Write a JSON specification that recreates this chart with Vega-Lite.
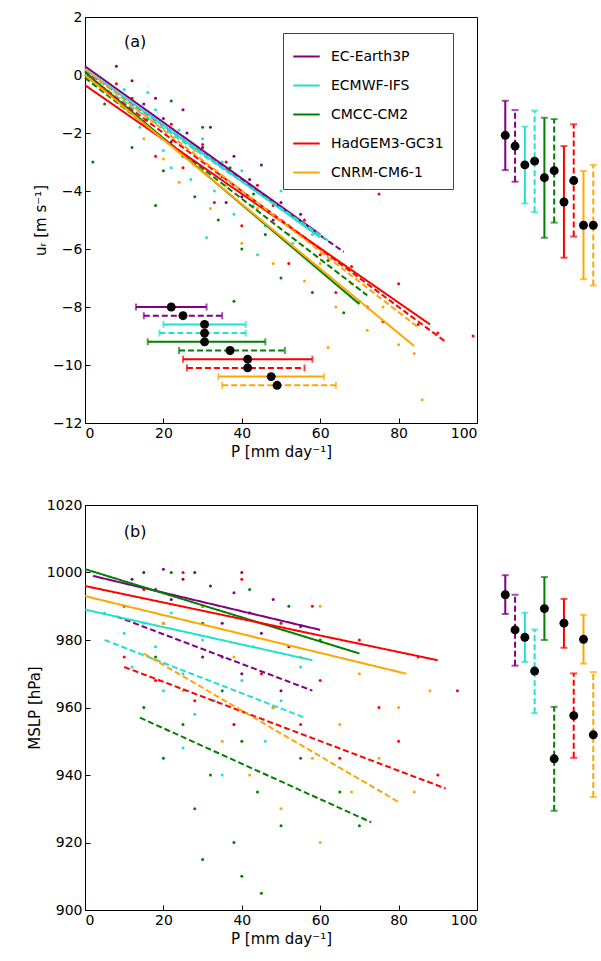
{
  "$schema": "https://vega.github.io/schema/vega-lite/v6.json",
  "padding": {"left": 26, "top": 9, "right": 0, "bottom": 0},
  "spacing": 37,
  "datasets": {
    "pa": [
      {"m":"EC-Earth3P","x":12,"y":-0.2},{"m":"EC-Earth3P","x":15,"y":-1},{"m":"EC-Earth3P","x":18,"y":-0.8},{"m":"EC-Earth3P","x":20,"y":-1.5},{"m":"EC-Earth3P","x":22,"y":-2.3},{"m":"EC-Earth3P","x":25,"y":-1.2},{"m":"EC-Earth3P","x":28,"y":-3},{"m":"EC-Earth3P","x":30,"y":-2.5},{"m":"EC-Earth3P","x":32,"y":-1.8},{"m":"EC-Earth3P","x":35,"y":-3.5},{"m":"EC-Earth3P","x":38,"y":-2.8},{"m":"EC-Earth3P","x":40,"y":-4.2},{"m":"EC-Earth3P","x":42,"y":-3.6},{"m":"EC-Earth3P","x":45,"y":-3.1},{"m":"EC-Earth3P","x":48,"y":-5},{"m":"EC-Earth3P","x":50,"y":-4.4},{"m":"EC-Earth3P","x":55,"y":-4.8},{"m":"EC-Earth3P","x":8,"y":0.3},{"m":"EC-Earth3P","x":26,"y":-2},{"m":"EC-Earth3P","x":36,"y":-4.4},
      {"m":"ECMWF-IFS","x":10,"y":-0.5},{"m":"ECMWF-IFS","x":14,"y":-1.8},{"m":"ECMWF-IFS","x":18,"y":-1.2},{"m":"ECMWF-IFS","x":20,"y":-2.6},{"m":"ECMWF-IFS","x":24,"y":-1.9},{"m":"ECMWF-IFS","x":27,"y":-3.6},{"m":"ECMWF-IFS","x":30,"y":-2.2},{"m":"ECMWF-IFS","x":33,"y":-4},{"m":"ECMWF-IFS","x":35,"y":-3},{"m":"ECMWF-IFS","x":38,"y":-4.8},{"m":"ECMWF-IFS","x":40,"y":-3.3},{"m":"ECMWF-IFS","x":43,"y":-4.5},{"m":"ECMWF-IFS","x":46,"y":-5.2},{"m":"ECMWF-IFS","x":50,"y":-4},{"m":"ECMWF-IFS","x":53,"y":-5.8},{"m":"ECMWF-IFS","x":58,"y":-5.5},{"m":"ECMWF-IFS","x":22,"y":-3.2},{"m":"ECMWF-IFS","x":31,"y":-5.6},{"m":"ECMWF-IFS","x":44,"y":-6.2},{"m":"ECMWF-IFS","x":16,"y":-0.6},
      {"m":"CMCC-CM2","x":5,"y":-1},{"m":"CMCC-CM2","x":10,"y":-0.8},{"m":"CMCC-CM2","x":12,"y":-2.5},{"m":"CMCC-CM2","x":16,"y":-1.5},{"m":"CMCC-CM2","x":20,"y":-3.3},{"m":"CMCC-CM2","x":22,"y":-0.9},{"m":"CMCC-CM2","x":25,"y":-2.8},{"m":"CMCC-CM2","x":28,"y":-4.2},{"m":"CMCC-CM2","x":30,"y":-1.8},{"m":"CMCC-CM2","x":34,"y":-5},{"m":"CMCC-CM2","x":37,"y":-3.2},{"m":"CMCC-CM2","x":40,"y":-6},{"m":"CMCC-CM2","x":43,"y":-4.1},{"m":"CMCC-CM2","x":46,"y":-5.5},{"m":"CMCC-CM2","x":50,"y":-7},{"m":"CMCC-CM2","x":54,"y":-5},{"m":"CMCC-CM2","x":58,"y":-7.5},{"m":"CMCC-CM2","x":62,"y":-6.4},{"m":"CMCC-CM2","x":66,"y":-8.2},{"m":"CMCC-CM2","x":70,"y":-7.8},{"m":"CMCC-CM2","x":18,"y":-4.5},{"m":"CMCC-CM2","x":38,"y":-7.8},{"m":"CMCC-CM2","x":2,"y":-3},
      {"m":"HadGEM3-GC31","x":8,"y":-0.3},{"m":"HadGEM3-GC31","x":12,"y":-0.8},{"m":"HadGEM3-GC31","x":15,"y":-1.6},{"m":"HadGEM3-GC31","x":18,"y":-2.8},{"m":"HadGEM3-GC31","x":22,"y":-1.7},{"m":"HadGEM3-GC31","x":25,"y":-3.2},{"m":"HadGEM3-GC31","x":30,"y":-2.4},{"m":"HadGEM3-GC31","x":33,"y":-4.4},{"m":"HadGEM3-GC31","x":36,"y":-3},{"m":"HadGEM3-GC31","x":40,"y":-5.2},{"m":"HadGEM3-GC31","x":44,"y":-3.8},{"m":"HadGEM3-GC31","x":48,"y":-4.5},{"m":"HadGEM3-GC31","x":52,"y":-6.5},{"m":"HadGEM3-GC31","x":56,"y":-5},{"m":"HadGEM3-GC31","x":60,"y":-6.2},{"m":"HadGEM3-GC31","x":64,"y":-7.5},{"m":"HadGEM3-GC31","x":68,"y":-6.6},{"m":"HadGEM3-GC31","x":72,"y":-8},{"m":"HadGEM3-GC31","x":76,"y":-8.5},{"m":"HadGEM3-GC31","x":80,"y":-7.2},{"m":"HadGEM3-GC31","x":85,"y":-8.6},{"m":"HadGEM3-GC31","x":90,"y":-8.9},{"m":"HadGEM3-GC31","x":99,"y":-9},{"m":"HadGEM3-GC31","x":75,"y":-4.1},
      {"m":"CNRM-CM6-1","x":15,"y":-2.2},{"m":"CNRM-CM6-1","x":20,"y":-2.9},{"m":"CNRM-CM6-1","x":24,"y":-3.7},{"m":"CNRM-CM6-1","x":28,"y":-2.6},{"m":"CNRM-CM6-1","x":32,"y":-4.6},{"m":"CNRM-CM6-1","x":36,"y":-3.8},{"m":"CNRM-CM6-1","x":40,"y":-5.8},{"m":"CNRM-CM6-1","x":44,"y":-4.6},{"m":"CNRM-CM6-1","x":48,"y":-6.5},{"m":"CNRM-CM6-1","x":52,"y":-5.5},{"m":"CNRM-CM6-1","x":56,"y":-7.1},{"m":"CNRM-CM6-1","x":60,"y":-6.5},{"m":"CNRM-CM6-1","x":64,"y":-8},{"m":"CNRM-CM6-1","x":68,"y":-7.2},{"m":"CNRM-CM6-1","x":72,"y":-8.8},{"m":"CNRM-CM6-1","x":76,"y":-8},{"m":"CNRM-CM6-1","x":80,"y":-9.3},{"m":"CNRM-CM6-1","x":84,"y":-9.6},{"m":"CNRM-CM6-1","x":86,"y":-11.2},{"m":"CNRM-CM6-1","x":62,"y":-9.4}
    ],
    "pb": [
      {"m":"EC-Earth3P","x":12,"y":998},{"m":"EC-Earth3P","x":15,"y":1000},{"m":"EC-Earth3P","x":18,"y":995},{"m":"EC-Earth3P","x":20,"y":1001},{"m":"EC-Earth3P","x":22,"y":992},{"m":"EC-Earth3P","x":25,"y":998},{"m":"EC-Earth3P","x":28,"y":1000},{"m":"EC-Earth3P","x":30,"y":990},{"m":"EC-Earth3P","x":32,"y":996},{"m":"EC-Earth3P","x":35,"y":985},{"m":"EC-Earth3P","x":38,"y":994},{"m":"EC-Earth3P","x":40,"y":1000},{"m":"EC-Earth3P","x":42,"y":988},{"m":"EC-Earth3P","x":45,"y":982},{"m":"EC-Earth3P","x":48,"y":992},{"m":"EC-Earth3P","x":52,"y":978},{"m":"EC-Earth3P","x":55,"y":984},{"m":"EC-Earth3P","x":30,"y":975},{"m":"EC-Earth3P","x":40,"y":970},{"m":"EC-Earth3P","x":50,"y":965},
      {"m":"ECMWF-IFS","x":5,"y":988},{"m":"ECMWF-IFS","x":10,"y":982},{"m":"ECMWF-IFS","x":12,"y":972},{"m":"ECMWF-IFS","x":15,"y":985},{"m":"ECMWF-IFS","x":18,"y":978},{"m":"ECMWF-IFS","x":20,"y":965},{"m":"ECMWF-IFS","x":22,"y":988},{"m":"ECMWF-IFS","x":25,"y":970},{"m":"ECMWF-IFS","x":28,"y":958},{"m":"ECMWF-IFS","x":30,"y":980},{"m":"ECMWF-IFS","x":33,"y":962},{"m":"ECMWF-IFS","x":35,"y":975},{"m":"ECMWF-IFS","x":38,"y":955},{"m":"ECMWF-IFS","x":40,"y":968},{"m":"ECMWF-IFS","x":43,"y":978},{"m":"ECMWF-IFS","x":46,"y":950},{"m":"ECMWF-IFS","x":50,"y":962},{"m":"ECMWF-IFS","x":55,"y":972},{"m":"ECMWF-IFS","x":25,"y":948},{"m":"ECMWF-IFS","x":35,"y":940},
      {"m":"CMCC-CM2","x":10,"y":990},{"m":"CMCC-CM2","x":15,"y":960},{"m":"CMCC-CM2","x":18,"y":975},{"m":"CMCC-CM2","x":20,"y":945},{"m":"CMCC-CM2","x":22,"y":1000},{"m":"CMCC-CM2","x":25,"y":955},{"m":"CMCC-CM2","x":28,"y":930},{"m":"CMCC-CM2","x":30,"y":985},{"m":"CMCC-CM2","x":32,"y":940},{"m":"CMCC-CM2","x":35,"y":965},{"m":"CMCC-CM2","x":38,"y":920},{"m":"CMCC-CM2","x":40,"y":950},{"m":"CMCC-CM2","x":42,"y":995},{"m":"CMCC-CM2","x":44,"y":935},{"m":"CMCC-CM2","x":45,"y":905},{"m":"CMCC-CM2","x":48,"y":960},{"m":"CMCC-CM2","x":50,"y":925},{"m":"CMCC-CM2","x":55,"y":945},{"m":"CMCC-CM2","x":60,"y":980},{"m":"CMCC-CM2","x":65,"y":935},{"m":"CMCC-CM2","x":70,"y":925},{"m":"CMCC-CM2","x":52,"y":990},{"m":"CMCC-CM2","x":30,"y":915},{"m":"CMCC-CM2","x":40,"y":910},
      {"m":"HadGEM3-GC31","x":10,"y":975},{"m":"HadGEM3-GC31","x":15,"y":995},{"m":"HadGEM3-GC31","x":18,"y":968},{"m":"HadGEM3-GC31","x":20,"y":985},{"m":"HadGEM3-GC31","x":25,"y":1000},{"m":"HadGEM3-GC31","x":28,"y":962},{"m":"HadGEM3-GC31","x":30,"y":990},{"m":"HadGEM3-GC31","x":35,"y":975},{"m":"HadGEM3-GC31","x":38,"y":955},{"m":"HadGEM3-GC31","x":40,"y":998},{"m":"HadGEM3-GC31","x":45,"y":970},{"m":"HadGEM3-GC31","x":50,"y":985},{"m":"HadGEM3-GC31","x":55,"y":955},{"m":"HadGEM3-GC31","x":58,"y":990},{"m":"HadGEM3-GC31","x":60,"y":968},{"m":"HadGEM3-GC31","x":65,"y":945},{"m":"HadGEM3-GC31","x":70,"y":980},{"m":"HadGEM3-GC31","x":75,"y":960},{"m":"HadGEM3-GC31","x":80,"y":950},{"m":"HadGEM3-GC31","x":85,"y":975},{"m":"HadGEM3-GC31","x":90,"y":940},{"m":"HadGEM3-GC31","x":95,"y":965},
      {"m":"CNRM-CM6-1","x":20,"y":985},{"m":"CNRM-CM6-1","x":25,"y":965},{"m":"CNRM-CM6-1","x":30,"y":990},{"m":"CNRM-CM6-1","x":35,"y":950},{"m":"CNRM-CM6-1","x":38,"y":975},{"m":"CNRM-CM6-1","x":42,"y":940},{"m":"CNRM-CM6-1","x":45,"y":985},{"m":"CNRM-CM6-1","x":48,"y":960},{"m":"CNRM-CM6-1","x":50,"y":930},{"m":"CNRM-CM6-1","x":55,"y":975},{"m":"CNRM-CM6-1","x":58,"y":945},{"m":"CNRM-CM6-1","x":60,"y":990},{"m":"CNRM-CM6-1","x":65,"y":955},{"m":"CNRM-CM6-1","x":68,"y":935},{"m":"CNRM-CM6-1","x":70,"y":970},{"m":"CNRM-CM6-1","x":75,"y":945},{"m":"CNRM-CM6-1","x":80,"y":960},{"m":"CNRM-CM6-1","x":84,"y":935},{"m":"CNRM-CM6-1","x":88,"y":965},{"m":"CNRM-CM6-1","x":60,"y":920}
    ],
    "la": [
      {"m":"EC-Earth3P","r":"s","x":0,"y":0.3,"x2":60,"y2":-5.5},{"m":"EC-Earth3P","r":"d","x":0,"y":0.15,"x2":66,"y2":-6.1},
      {"m":"ECMWF-IFS","r":"s","x":0,"y":0.2,"x2":60,"y2":-5.6},{"m":"ECMWF-IFS","r":"d","x":0,"y":0,"x2":62,"y2":-5.7},
      {"m":"CMCC-CM2","r":"s","x":0,"y":0.1,"x2":70,"y2":-7.9},{"m":"CMCC-CM2","r":"d","x":0,"y":-0.1,"x2":72,"y2":-7.6},
      {"m":"HadGEM3-GC31","r":"s","x":0,"y":-0.35,"x2":88,"y2":-8.6},{"m":"HadGEM3-GC31","r":"d","x":0,"y":0,"x2":92,"y2":-9.2},
      {"m":"CNRM-CM6-1","r":"s","x":0,"y":0,"x2":84,"y2":-9.35},{"m":"CNRM-CM6-1","r":"d","x":0,"y":0.2,"x2":85,"y2":-8.7}
    ],
    "lb": [
      {"m":"EC-Earth3P","r":"s","x":2,"y":999,"x2":60,"y2":983},{"m":"EC-Earth3P","r":"d","x":8,"y":987,"x2":58,"y2":965},
      {"m":"ECMWF-IFS","r":"s","x":0,"y":989,"x2":58,"y2":974},{"m":"ECMWF-IFS","r":"d","x":5,"y":980,"x2":56,"y2":957},
      {"m":"CMCC-CM2","r":"s","x":0,"y":1001,"x2":70,"y2":976},{"m":"CMCC-CM2","r":"d","x":14,"y":957,"x2":73,"y2":926},
      {"m":"HadGEM3-GC31","r":"s","x":0,"y":996,"x2":90,"y2":974},{"m":"HadGEM3-GC31","r":"d","x":10,"y":972,"x2":92,"y2":936},
      {"m":"CNRM-CM6-1","r":"s","x":0,"y":993,"x2":82,"y2":970},{"m":"CNRM-CM6-1","r":"d","x":15,"y":976,"x2":80,"y2":932}
    ],
    "ha": [
      {"m":"EC-Earth3P","r":"s","y":-8.0,"mid":22,"lo":13,"hi":31},
      {"m":"EC-Earth3P","r":"d","y":-8.3,"mid":25,"lo":15,"hi":35},
      {"m":"ECMWF-IFS","r":"s","y":-8.6,"mid":30.5,"lo":20,"hi":41},
      {"m":"ECMWF-IFS","r":"d","y":-8.9,"mid":30.5,"lo":19,"hi":41},
      {"m":"CMCC-CM2","r":"s","y":-9.2,"mid":30.5,"lo":16,"hi":46},
      {"m":"CMCC-CM2","r":"d","y":-9.5,"mid":37,"lo":24,"hi":51},
      {"m":"HadGEM3-GC31","r":"s","y":-9.8,"mid":41.5,"lo":25,"hi":58},
      {"m":"HadGEM3-GC31","r":"d","y":-10.1,"mid":41.5,"lo":26,"hi":56},
      {"m":"CNRM-CM6-1","r":"s","y":-10.4,"mid":47.5,"lo":34,"hi":61},
      {"m":"CNRM-CM6-1","r":"d","y":-10.7,"mid":49,"lo":35,"hi":64}
    ],
    "sa": [
      {"i":1,"m":"EC-Earth3P","r":"s","lo":-3.28,"mid":-2.08,"hi":-0.89},
      {"i":2,"m":"EC-Earth3P","r":"d","lo":-3.68,"mid":-2.45,"hi":-1.21},
      {"i":3,"m":"ECMWF-IFS","r":"s","lo":-4.43,"mid":-3.1,"hi":-1.78},
      {"i":4,"m":"ECMWF-IFS","r":"d","lo":-4.73,"mid":-2.97,"hi":-1.23},
      {"i":5,"m":"CMCC-CM2","r":"s","lo":-5.61,"mid":-3.54,"hi":-1.47},
      {"i":6,"m":"CMCC-CM2","r":"d","lo":-5.09,"mid":-3.3,"hi":-1.52},
      {"i":7,"m":"HadGEM3-GC31","r":"s","lo":-6.3,"mid":-4.38,"hi":-2.45},
      {"i":8,"m":"HadGEM3-GC31","r":"d","lo":-5.57,"mid":-3.64,"hi":-1.7},
      {"i":9,"m":"CNRM-CM6-1","r":"s","lo":-7.04,"mid":-5.18,"hi":-3.31},
      {"i":10,"m":"CNRM-CM6-1","r":"d","lo":-7.26,"mid":-5.18,"hi":-3.1}
    ],
    "sb": [
      {"i":1,"m":"EC-Earth3P","r":"s","lo":987.7,"mid":993.4,"hi":999.2},
      {"i":2,"m":"EC-Earth3P","r":"d","lo":972.4,"mid":983,"hi":993.4},
      {"i":3,"m":"ECMWF-IFS","r":"s","lo":973.5,"mid":980.8,"hi":988.1},
      {"i":4,"m":"ECMWF-IFS","r":"d","lo":958.3,"mid":970.8,"hi":983.1},
      {"i":5,"m":"CMCC-CM2","r":"s","lo":980,"mid":989.3,"hi":998.7},
      {"i":6,"m":"CMCC-CM2","r":"d","lo":929.4,"mid":944.8,"hi":960.2},
      {"i":7,"m":"HadGEM3-GC31","r":"s","lo":977.7,"mid":985,"hi":992.2},
      {"i":8,"m":"HadGEM3-GC31","r":"d","lo":945.1,"mid":957.6,"hi":970.1},
      {"i":9,"m":"CNRM-CM6-1","r":"s","lo":973,"mid":980.2,"hi":987.5},
      {"i":10,"m":"CNRM-CM6-1","r":"d","lo":933.5,"mid":951.9,"hi":970.5}
    ]
  },
  "vconcat": [
    {
      "hconcat": [
        {
          "width": 392,
          "height": 406,
          "layer": [
            {
              "data": {"name": "pa"},
              "mark": {"type": "circle", "size": 9, "opacity": 1},
              "encoding": {
                "x": {"field": "x", "type": "quantitative", "scale": {"domain": [0, 100], "nice": false}, "axis": {"values": [0, 20, 40, 60, 80, 100], "title": "P [mm day⁻¹]"}},
                "y": {"field": "y", "type": "quantitative", "scale": {"domain": [-12, 2], "nice": false}, "axis": {"values": [-12, -10, -8, -6, -4, -2, 0, 2], "title": "uᵣ [m s⁻¹]"}},
                "color": {"field": "m", "type": "nominal", "scale": {"domain": ["EC-Earth3P", "ECMWF-IFS", "CMCC-CM2", "HadGEM3-GC31", "CNRM-CM6-1"], "range": ["#800080", "#20e0d0", "#008000", "#ff0000", "#ffa500"]}}
              }
            },
            {
              "data": {"name": "la"},
              "mark": {"type": "rule", "strokeWidth": 2},
              "encoding": {
                "x": {"field": "x", "type": "quantitative"},
                "y": {"field": "y", "type": "quantitative"},
                "x2": {"field": "x2"},
                "y2": {"field": "y2"},
                "color": {"field": "m", "type": "nominal"},
                "strokeDash": {"field": "r", "type": "nominal", "scale": {"domain": ["s", "d"], "range": [[1, 0], [6, 3]]}, "legend": null}
              }
            },
            {
              "data": {"name": "ha"},
              "mark": {"type": "rule", "strokeWidth": 2},
              "encoding": {
                "x": {"field": "lo", "type": "quantitative"},
                "x2": {"field": "hi"},
                "y": {"field": "y", "type": "quantitative"},
                "color": {"field": "m", "type": "nominal"},
                "strokeDash": {"field": "r", "type": "nominal", "legend": null}
              }
            },
            {
              "data": {"name": "ha"},
              "mark": {"type": "tick", "orient": "vertical", "size": 7, "thickness": 2},
              "encoding": {
                "x": {"field": "lo", "type": "quantitative"},
                "y": {"field": "y", "type": "quantitative"},
                "color": {"field": "m", "type": "nominal"}
              }
            },
            {
              "data": {"name": "ha"},
              "mark": {"type": "tick", "orient": "vertical", "size": 7, "thickness": 2},
              "encoding": {
                "x": {"field": "hi", "type": "quantitative"},
                "y": {"field": "y", "type": "quantitative"},
                "color": {"field": "m", "type": "nominal"}
              }
            },
            {
              "data": {"name": "ha"},
              "mark": {"type": "circle", "size": 80, "color": "black", "opacity": 1},
              "encoding": {
                "x": {"field": "mid", "type": "quantitative"},
                "y": {"field": "y", "type": "quantitative"}
              }
            },
            {
              "data": {"values": [{"t": "(a)"}]},
              "mark": {"type": "text", "fontSize": 16, "color": "black"},
              "encoding": {"x": {"datum": 12.8}, "y": {"datum": 1.14}, "text": {"field": "t"}}
            }
          ]
        },
        {
          "width": 119,
          "height": 406,
          "view": {"stroke": null},
          "data": {"name": "sa"},
          "encoding": {
            "x": {"field": "i", "type": "quantitative", "scale": {"domain": [-1.79, 10.38], "nice": false}, "axis": null},
            "color": {"field": "m", "type": "nominal"}
          },
          "layer": [
            {"mark": {"type": "rule", "strokeWidth": 2}, "encoding": {"y": {"field": "lo", "type": "quantitative", "scale": {"domain": [-12, 2], "nice": false}, "axis": null}, "y2": {"field": "hi"}, "strokeDash": {"field": "r", "type": "nominal", "legend": null}}},
            {"mark": {"type": "tick", "orient": "horizontal", "size": 7, "thickness": 2}, "encoding": {"y": {"field": "lo", "type": "quantitative"}}},
            {"mark": {"type": "tick", "orient": "horizontal", "size": 7, "thickness": 2}, "encoding": {"y": {"field": "hi", "type": "quantitative"}}},
            {"mark": {"type": "circle", "size": 80, "color": "black", "opacity": 1}, "encoding": {"y": {"field": "mid", "type": "quantitative"}, "color": {"value": "black"}}}
          ]
        }
      ]
    },
    {
      "hconcat": [
        {
          "width": 392,
          "height": 405,
          "layer": [
            {
              "data": {"name": "pb"},
              "mark": {"type": "circle", "size": 9, "opacity": 1},
              "encoding": {
                "x": {"field": "x", "type": "quantitative", "scale": {"domain": [0, 100], "nice": false}, "axis": {"values": [0, 20, 40, 60, 80, 100], "title": "P [mm day⁻¹]"}},
                "y": {"field": "y", "type": "quantitative", "scale": {"domain": [900, 1020], "nice": false}, "axis": {"values": [900, 920, 940, 960, 980, 1000, 1020], "format": "d", "title": "MSLP [hPa]"}},
                "color": {"field": "m", "type": "nominal"}
              }
            },
            {
              "data": {"name": "lb"},
              "mark": {"type": "rule", "strokeWidth": 2},
              "encoding": {
                "x": {"field": "x", "type": "quantitative"},
                "y": {"field": "y", "type": "quantitative"},
                "x2": {"field": "x2"},
                "y2": {"field": "y2"},
                "color": {"field": "m", "type": "nominal"},
                "strokeDash": {"field": "r", "type": "nominal", "legend": null}
              }
            },
            {
              "data": {"values": [{"t": "(b)"}]},
              "mark": {"type": "text", "fontSize": 16, "color": "black"},
              "encoding": {"x": {"datum": 12.8}, "y": {"datum": 1012}, "text": {"field": "t"}}
            }
          ]
        },
        {
          "width": 119,
          "height": 405,
          "view": {"stroke": null},
          "data": {"name": "sb"},
          "encoding": {
            "x": {"field": "i", "type": "quantitative", "scale": {"domain": [-1.79, 10.38], "nice": false}, "axis": null},
            "color": {"field": "m", "type": "nominal"}
          },
          "layer": [
            {"mark": {"type": "rule", "strokeWidth": 2}, "encoding": {"y": {"field": "lo", "type": "quantitative", "scale": {"domain": [900, 1020], "nice": false}, "axis": null}, "y2": {"field": "hi"}, "strokeDash": {"field": "r", "type": "nominal", "legend": null}}},
            {"mark": {"type": "tick", "orient": "horizontal", "size": 7, "thickness": 2}, "encoding": {"y": {"field": "lo", "type": "quantitative"}}},
            {"mark": {"type": "tick", "orient": "horizontal", "size": 7, "thickness": 2}, "encoding": {"y": {"field": "hi", "type": "quantitative"}}},
            {"mark": {"type": "circle", "size": 80, "color": "black", "opacity": 1}, "encoding": {"y": {"field": "mid", "type": "quantitative"}, "color": {"value": "black"}}}
          ]
        }
      ]
    }
  ],
  "resolve": {"scale": {"color": "shared", "strokeDash": "shared"}, "legend": {"color": "shared"}},
  "config": {
    "font": "DejaVu Sans",
    "view": {"stroke": "black", "strokeWidth": 1},
    "axis": {"grid": false, "labelFontSize": 14, "titleFontSize": 15, "titleFontWeight": "normal", "labelColor": "black", "titleColor": "black", "domainColor": "black", "tickColor": "black", "tickSize": -5, "labelPadding": 8},
    "concat": {"spacing": 0},
    "legend": {"title": null, "orient": "none", "legendX": 198, "legendY": 16, "symbolType": "stroke", "symbolStrokeWidth": 2, "symbolSize": 700, "labelFontSize": 14, "labelColor": "black", "strokeColor": "#444", "padding": 9, "rowPadding": 7, "labelOffset": 10, "fillColor": "white"}
  }
}
